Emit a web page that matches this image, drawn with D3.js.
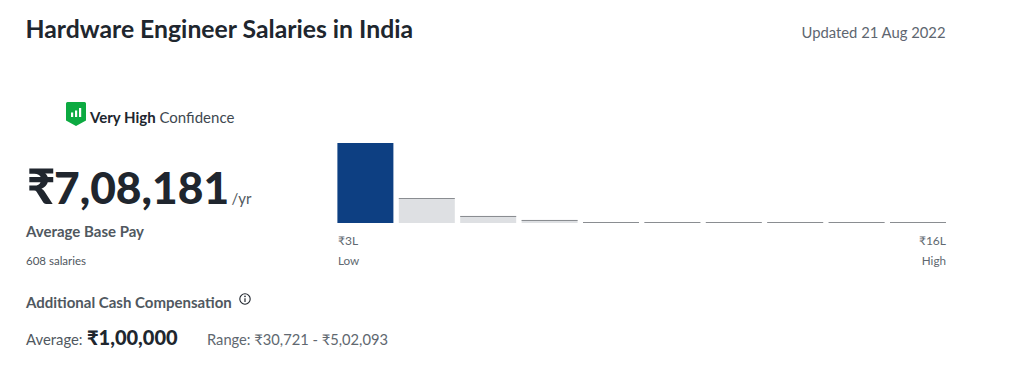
<!DOCTYPE html>
<html><head><meta charset="utf-8">
<script src="https://cdn.jsdelivr.net/npm/d3@7"></script>
<style>
html,body{margin:0;padding:0;background:#fff;overflow:hidden}
svg{display:block}
text{font-family:Lato,"Noto Sans",sans-serif}
</style></head><body><svg id="c" width="1015" height="365"></svg>
<script>
const bins = ["₹3L","","","","","","","","","₹16L"];
const binIds = d3.range(10);
const shareOfTallest = [100,31,9,4,1,1,1,1,1,1];
const highlightedBin = 0;
const endLabels = ["Low","High"];

const svg = d3.select("#c");
const x = d3.scaleBand().domain(binIds).range([337.4,946]).paddingInner(0.088).paddingOuter(0);
const y = d3.scaleLinear().domain([0,100]).range([223,143]);

function T(px,py,str,size,color,weight,anchor){
  return svg.append("text").attr("x",px).attr("y",py).attr("font-size",size).attr("fill",color)
    .attr("font-weight",weight||400).attr("text-anchor",anchor||"start").text(str);
}
T(25.5,38,"Hardware Engineer Salaries in India",24.75,"#20262e",700);
T(945.5,38,"Updated 21 Aug 2022",14.8,"#5e6670",400,"end");

// confidence shield
const g = svg.append("g").attr("transform","translate(66,102)");
g.append("path").attr("d","M1.5,0H18.5A1.5,1.5 0 0 1 20,1.5V18.5L10,24L0,18.5V1.5A1.5,1.5 0 0 1 1.5,0Z").attr("fill","#0caa41");
[[5,10.5,4.5],[9,8.5,6.5],[13,6,9]].forEach(b=>g.append("rect").attr("x",b[0]).attr("y",b[1]).attr("width",2.2).attr("height",b[2]).attr("fill","#fff"));
const conf = T(90,123,"",15,"#20262e");
conf.append("tspan").attr("font-weight",700).text("Very High");
conf.append("tspan").attr("fill","#404850").text(" Confidence");

const big = T(27,204,"",44.3,"#20262e",900);
big.append("tspan").attr("font-size",49).text("₹");
big.append("tspan").attr("x",54).text("7,08,181");
T(231.5,204,"/yr",15,"#505860");
T(26,237,"Average Base Pay",15,"#505860",700);
T(26,265,"608 salaries",11.5,"#505860");

// histogram
svg.selectAll("rect.bar").data(shareOfTallest).join("rect").attr("class","bar")
  .attr("x",(d,i)=>x(i)).attr("width",x.bandwidth())
  .attr("y",d=>y(d)).attr("height",d=>y(0)-y(d))
  .attr("fill",(d,i)=>i===highlightedBin?"#0d3f82":"#dee0e3");
svg.selectAll("line.cap").data(shareOfTallest.map((d,i)=>[d,i]).filter(p=>p[1]!==highlightedBin)).join("line").attr("class","cap")
  .attr("x1",p=>x(p[1])).attr("x2",p=>x(p[1])+x.bandwidth())
  .attr("y1",p=>Math.round(y(p[0]))+0.5).attr("y2",p=>Math.round(y(p[0]))+0.5)
  .attr("stroke","#8a8d91").attr("stroke-width",1);

T(338,245,bins[0],12,"#606870");
T(946,245,bins[9],12,"#606870",400,"end");
T(338,265,endLabels[0],11.7,"#606870");
T(946,265,endLabels[1],11.7,"#606870",400,"end");

T(26,308,"Additional Cash Compensation",15,"#505860",700);
const info = svg.append("g").attr("transform","translate(245,299)");
info.append("circle").attr("r",5.2).attr("fill","none").attr("stroke","#20262e").attr("stroke-width",1.1);
info.append("line").attr("y1",-0.8).attr("y2",3).attr("stroke","#20262e").attr("stroke-width",1.2);
info.append("circle").attr("cy",-2.6).attr("r",0.8).attr("fill","#20262e");

T(26,345,"Average:",14.85,"#505860");
T(87,345,"₹1,00,000",20,"#20262e",900);
T(207,345,"Range: ₹30,721 - ₹5,02,093",14.7,"#606870");
</script></body></html>
